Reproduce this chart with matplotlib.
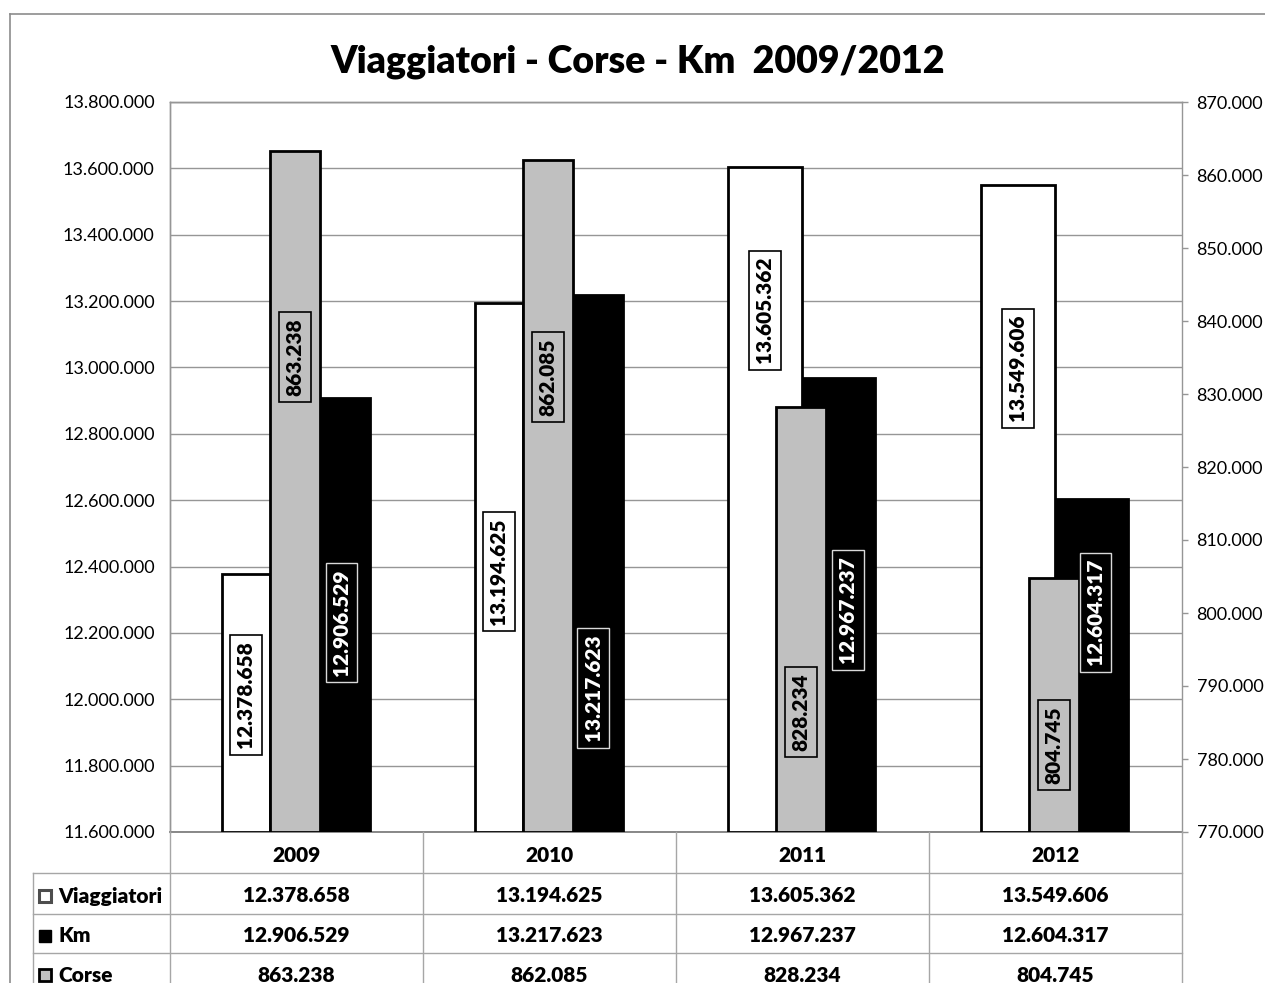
import matplotlib
matplotlib.use("Agg")
import matplotlib.pyplot as plt
import numpy as np
from matplotlib.patches import Rectangle
from matplotlib.lines import Line2D
from matplotlib.ticker import FuncFormatter, MultipleLocator
from matplotlib.transforms import blended_transform_factory

# ---- data ----
years = ["2009", "2010", "2011", "2012"]
viaggiatori = [12378658, 13194625, 13605362, 13549606]
km = [12906529, 13217623, 12967237, 12604317]
corse = [863238, 862085, 828234, 804745]
row_names = ["Viaggiatori", "Km", "Corse"]
title = "Viaggiatori - Corse - Km  2009/2012"

# ---- style / layout ----
W, H = 1265, 983
FONT = "Lato"
BW = "heavy"
plt.rcParams["font.family"] = [FONT, "DejaVu Sans"]

def fmt(v):
    return f"{int(v):,}".replace(",", ".")

def fx(x):
    return x / W

def fy(y):
    return 1 - y / H

fig = plt.figure(figsize=(W / 100, H / 100), dpi=100)
fig.patch.set_facecolor("white")

GRID = "#969696"
GRAY = "#c0c0c0"

# outer chart frame
fig.add_artist(Line2D([fx(10), fx(10)], [fy(14), fy(1000)], color="#8c8c8c", lw=1.2, transform=fig.transFigure))
fig.add_artist(Line2D([fx(10), fx(1300)], [fy(14), fy(14)], color="#8c8c8c", lw=1.2, transform=fig.transFigure))

ax = fig.add_axes([fx(170), fy(832), (1182 - 170) / W, (832 - 102) / H])
ax2 = ax.twinx()

ax.set_xlim(-0.5, 3.5)
ax.set_ylim(11600000, 13800000)
ax2.set_ylim(770000, 870000)

x = np.arange(len(years))
# bar geometry (category units)
prim_left_white = [-0.295, -0.295, -0.295, -0.295]
prim_w_white = [0.19, 0.19, 0.292, 0.292]
prim_left_black = [0.095, 0.095, 0.0, 0.0]
prim_w_black = [0.195, 0.195, 0.288, 0.285]
gray_left = -0.105
gray_w = 0.197

EDGE_LW = 2.0
for i in range(len(years)):
    ax.bar(x[i] + prim_left_white[i], viaggiatori[i] - 11600000, bottom=11600000,
           width=prim_w_white[i], align="edge", color="white", edgecolor="black",
           linewidth=EDGE_LW, zorder=3)
    ax.bar(x[i] + prim_left_black[i], km[i] - 11600000, bottom=11600000,
           width=prim_w_black[i], align="edge", color="black", edgecolor="black",
           linewidth=EDGE_LW, zorder=3)
    ax2.bar(x[i] + gray_left, corse[i] - 770000, bottom=770000, width=gray_w,
            align="edge", color=GRAY, edgecolor="black", linewidth=EDGE_LW, zorder=3)

# axes styling
ax.set_axisbelow(True)
ax.yaxis.set_major_locator(MultipleLocator(200000))
ax.yaxis.set_major_formatter(FuncFormatter(lambda v, p: fmt(v)))
ax.grid(axis="y", color=GRID, lw=1.0)
ax.tick_params(axis="y", length=0, pad=11, labelsize=13)
ax.set_xticks([])
ax2.yaxis.set_major_locator(MultipleLocator(10000))
ax2.yaxis.set_major_formatter(FuncFormatter(lambda v, p: fmt(v)))
ax2.tick_params(axis="y", length=4.5, width=1, color=GRID, pad=6, labelsize=13)
for a in (ax, ax2):
    for s in a.spines.values():
        s.set_color(GRID)
        s.set_linewidth(1.0)
ax.spines["bottom"].set_color("#7f7f7f")
ax.spines["bottom"].set_linewidth(1.3)
ax2.spines["bottom"].set_visible(False)
ax.spines["right"].set_visible(False)

# data labels (centers given in axis value units)
lab_v_pos = [12013000, 12384000, 13173000, 12998000]
lab_k_pos = [12230000, 12034000, 12269000, 12263000]
lab_c_pos = [835100, 832300, 786400, 781900]
lab_k_dx = [-0.015, -0.02, 0.035, 0.015]

for i in range(len(years)):
    cw = x[i] + prim_left_white[i] + prim_w_white[i] / 2
    ck = x[i] + prim_left_black[i] + prim_w_black[i] / 2 + lab_k_dx[i]
    cg = x[i] + gray_left + gray_w / 2
    ax2.text(cw, lab_v_pos[i], fmt(viaggiatori[i]), transform=ax.transData, rotation=90,
             ha="center", va="center", fontsize=15, fontweight=BW, color="black", zorder=10,
             bbox=dict(boxstyle="square,pad=0.3", fc="white", ec="black", lw=1.2))
    ax2.text(ck, lab_k_pos[i], fmt(km[i]), transform=ax.transData, rotation=90,
             ha="center", va="center", fontsize=15, fontweight=BW, color="white", zorder=10,
             bbox=dict(boxstyle="square,pad=0.3", fc="black", ec="#d9d9d9", lw=1.0))
    ax2.text(cg, lab_c_pos[i], fmt(corse[i]), transform=ax2.transData, rotation=90,
             ha="center", va="center", fontsize=15, fontweight=BW, color="black", zorder=10,
             bbox=dict(boxstyle="square,pad=0.3", fc=GRAY, ec="black", lw=1.2))

# ---- data table ----
bt = blended_transform_factory(ax.transData, fig.transFigure)
TL = "#a6a6a6"
for b in np.arange(-0.5, len(years), 1.0):
    fig.add_artist(Line2D([b, b], [fy(832), fy(1000)], color=TL, lw=1.0, transform=bt))
fig.add_artist(Line2D([fx(33), fx(33)], [fy(873), fy(1000)], color=TL, lw=1.0, transform=fig.transFigure))
for yy in [873, 913.5, 952.5]:
    fig.add_artist(Line2D([fx(33), fx(1182)], [fy(yy), fy(yy)], color=TL, lw=1.0, transform=fig.transFigure))

for i, yv in enumerate(years):
    fig.text(x[i], fy(856), yv, transform=bt, ha="center", va="center", fontsize=15, fontweight=BW)

row_y = [896, 936, 975]
rows = [viaggiatori, km, corse]
for r, (name, vals, yy) in enumerate(zip(row_names, rows, row_y)):
    for i in range(len(years)):
        fig.text(x[i], fy(yy), fmt(vals[i]), transform=bt, ha="center", va="center",
                 fontsize=15, fontweight=BW)
    fig.text(fx(58), fy(yy), name, ha="left", va="center", fontsize=15, fontweight=BW)

# legend keys
key_s = 12
key_styles = [dict(fc="white", ec="#4d4d4d", lw=2.2),
              dict(fc="black", ec="black", lw=1.0),
              dict(fc=GRAY, ec="black", lw=2.0)]
for yy, st in zip(row_y, key_styles):
    fig.add_artist(Rectangle((fx(39), fy(yy + key_s / 2)), key_s / W, key_s / H,
                             facecolor=st["fc"], edgecolor=st["ec"], linewidth=st["lw"],
                             transform=fig.transFigure))

fig.text(fx(638), fy(62), title, ha="center", va="center", fontsize=27, fontweight=BW)

fig.savefig("out.png", dpi=100)
